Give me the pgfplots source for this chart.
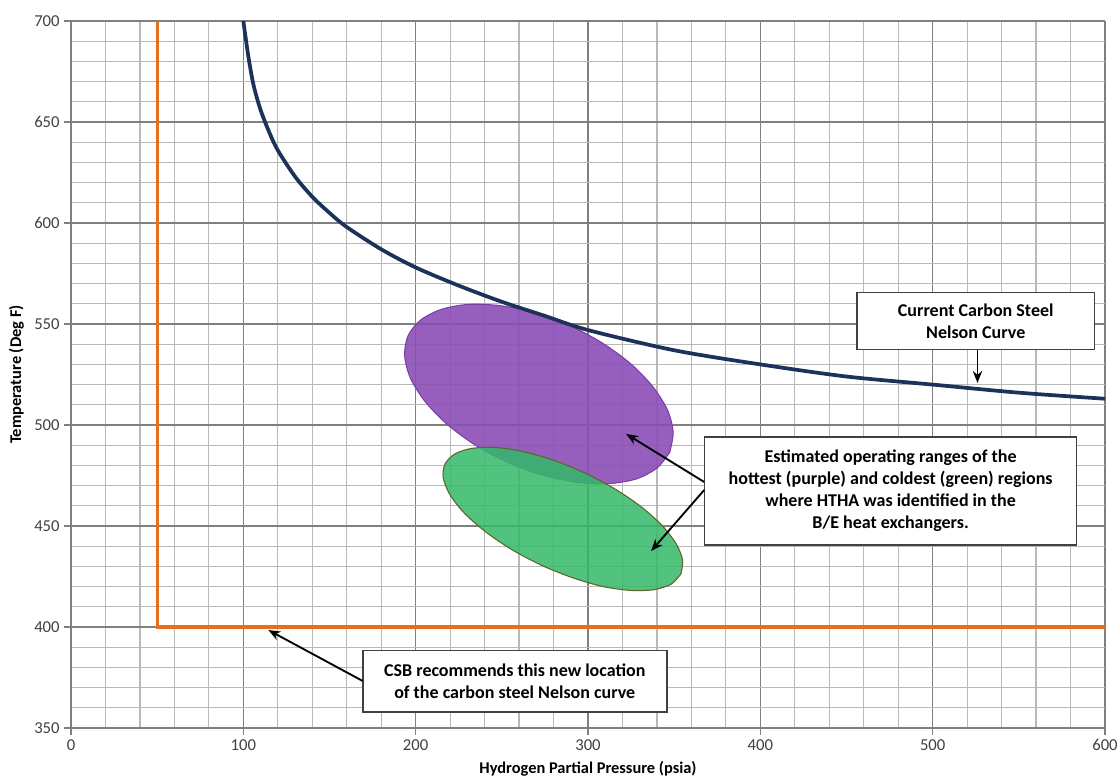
\documentclass[border=0pt]{standalone}
\usepackage{pgfplots}
\pgfplotsset{compat=1.18}
\usepackage{fontspec}
\setmainfont{Carlito}
\usetikzlibrary{arrows.meta}
\definecolor{navy}{RGB}{28,50,90}
\definecolor{orng}{RGB}{228,112,30}
\definecolor{purp}{RGB}{140,78,182}
\definecolor{purpedge}{RGB}{125,60,170}
\definecolor{grn}{RGB}{50,185,105}
\definecolor{grnedge}{RGB}{95,100,40}
\definecolor{majgrid}{RGB}{128,128,128}
\definecolor{mingrid}{RGB}{185,185,185}
\definecolor{ticktxt}{RGB}{64,64,64}
\begin{document}
\begin{tikzpicture}[x=1pt,y=1pt]
\begin{axis}[
  scale only axis,
  width=775.5pt, height=530.25pt,
  xmin=0, xmax=600, ymin=350, ymax=700,
  xtick={0,100,...,600}, ytick={350,400,...,700},
  minor xtick={20,40,...,580}, minor ytick={360,370,...,690},
  grid=both,
  major grid style={majgrid, line width=0.9pt},
  minor grid style={mingrid, line width=0.9pt},
  axis lines*=left,
  axis line style={majgrid, line width=0.9pt, -},
  tick style={majgrid, line width=0.9pt},
  major tick length=5pt,
  minor tick length=0pt,
  tick align=outside,
  tick label style={text=ticktxt},
  xticklabel={\fontsize{12.5}{15}\selectfont\pgfmathprintnumber[assume math mode=true]{\tick}},
  yticklabel={\fontsize{12.5}{15}\selectfont\pgfmathprintnumber[assume math mode=true]{\tick}},
  xlabel={\bfseries Hydrogen Partial Pressure (psia)},
  ylabel={\bfseries Temperature (Deg F)},
  label style={font=\fontsize{12.3}{14}\selectfont},
  xlabel style={yshift=-1pt},
  ylabel style={yshift=1pt},
  clip=true,
]
% purple region
\addplot[fill=purp, fill opacity=0.9, draw=purpedge, line width=0.8pt, smooth] coordinates {
(347.4,486.5)(340.2,478.8)(328.4,473.4)(312.6,471.0)(294.1,471.6)(274.0,475.1)
(253.8,481.4)(234.7,490.0)(218.2,500.4)(205.3,511.8)(196.9,523.3)(193.6,534.4)
(195.6,544.2)(202.8,551.9)(214.7,557.2)(230.4,559.7)(248.9,559.1)(269.0,555.6)
(289.2,549.3)(308.3,540.6)(324.8,530.3)(337.7,518.9)(346.2,507.3)(349.4,496.3)
(347.4,486.5)};
% green region
\addplot[fill=grn, fill opacity=0.85, draw=grnedge, line width=0.8pt, smooth] coordinates {
(353.9,426.3)(348.4,421.3)(338.5,418.5)(325.0,418.1)(308.8,420.0)(291.0,424.4)
(272.9,430.6)(255.6,438.4)(240.3,447.3)(228.1,456.5)(219.9,465.5)(216.0,473.8)
(217.0,480.6)(222.6,485.6)(232.4,488.4)(245.9,488.9)(262.1,486.9)(279.9,482.6)
(298.0,476.3)(315.3,468.5)(330.6,459.7)(342.8,450.4)(351.0,441.4)(354.9,433.2)
(353.9,426.3)};
% current Nelson curve
\addplot[navy, line width=2.8pt, smooth] coordinates {
(100,700)(103,682)(106,668)(110,656)(115,645)(120,636)(130,623)(140,613)(150,605)(160,598)(180,587)
(200,578)(225,569)(250,561)(275,554)(300,547)(350,537)(400,530)(450,524)(500,520)(550,516)(600,513)};
% CSB recommended curve
\addplot[orng, line width=2.4pt] coordinates {(50,700)(50,400)(600,400)};

\begin{scope}[font=\fontsize{13.5}{16.5}\selectfont\bfseries]
\node[draw=black!75, line width=1.2pt, fill=white, align=center, minimum width=178pt, minimum height=43pt, inner sep=2pt]
  at (axis cs:525,551.5) {Current Carbon Steel\\Nelson Curve};
\node[draw=black!75, line width=1.2pt, fill=white, align=center, minimum width=279pt, minimum height=81pt, inner sep=2pt]
  at (axis cs:475.6,467.4) {Estimated operating ranges of the\\hottest (purple) and coldest (green) regions\\where HTHA was identified in the\\B/E heat exchangers.};
\node[draw=black!75, line width=1.2pt, fill=white, align=center, minimum width=228pt, minimum height=46pt, inner sep=2pt]
  at (axis cs:257.5,373.2) {CSB recommends this new location\\of the carbon steel Nelson curve};
\end{scope}
\draw[-{Stealth[length=9pt,width=7pt]}, line width=1.4pt] (axis cs:526,537.1) -- (axis cs:526,520.8);
\draw[-{Stealth[length=9pt,width=7pt]}, line width=1.4pt] (axis cs:367.4,471.8) -- (axis cs:322.1,495.6);
\draw[-{Stealth[length=9pt,width=7pt]}, line width=1.4pt] (axis cs:367.4,467.8) -- (axis cs:336.6,437.6);
\draw[-{Stealth[length=9pt,width=7pt]}, line width=1.4pt] (axis cs:169.2,373.3) -- (axis cs:114.5,398.5);
\end{axis}
\pgfresetboundingbox
\path[use as bounding box] (-53.25pt,-41.25pt) rectangle (786.75pt,546pt);
\end{tikzpicture}
\end{document}
